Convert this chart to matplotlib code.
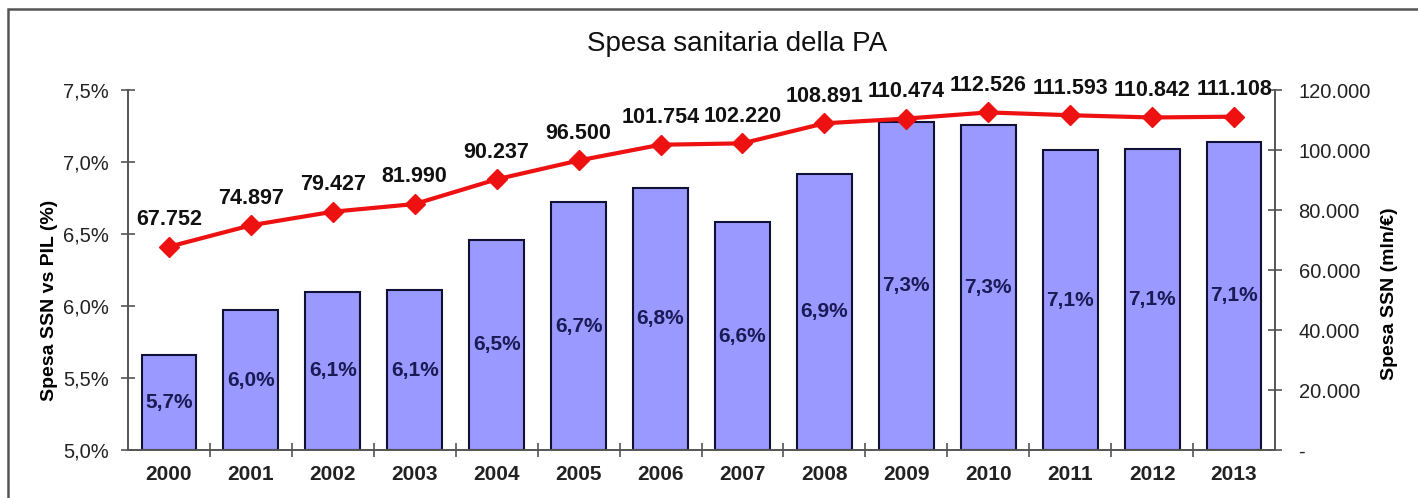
import matplotlib
matplotlib.use("Agg")
import matplotlib.pyplot as plt
from matplotlib.patches import Rectangle
from matplotlib.ticker import FixedLocator

years = ["2000", "2001", "2002", "2003", "2004", "2005", "2006",
         "2007", "2008", "2009", "2010", "2011", "2012", "2013"]
pct_pil = [5.66, 5.97, 6.10, 6.11, 6.46, 6.72, 6.82,
           6.58, 6.92, 7.28, 7.26, 7.08, 7.09, 7.14]
pct_labels = ["5,7%", "6,0%", "6,1%", "6,1%", "6,5%", "6,7%", "6,8%",
              "6,6%", "6,9%", "7,3%", "7,3%", "7,1%", "7,1%", "7,1%"]
spesa = [67752, 74897, 79427, 81990, 90237, 96500, 101754,
         102220, 108891, 110474, 112526, 111593, 110842, 111108]
spesa_labels = ["67.752", "74.897", "79.427", "81.990", "90.237", "96.500",
                "101.754", "102.220", "108.891", "110.474", "112.526",
                "111.593", "110.842", "111.108"]
left_ticks = [5.0, 5.5, 6.0, 6.5, 7.0, 7.5]
left_tick_labels = ["5,0%", "5,5%", "6,0%", "6,5%", "7,0%", "7,5%"]
right_ticks = [0, 20000, 40000, 60000, 80000, 100000, 120000]
right_tick_labels = ["-", "20.000", "40.000", "60.000", "80.000", "100.000", "120.000"]

plt.rcParams['font.family'] = ['Liberation Sans', 'DejaVu Sans']

W, H = 1418, 498
fig = plt.figure(figsize=(W / 100, H / 100), dpi=100)
ax = fig.add_axes([128 / W, 1 - 450 / H, (1275 - 128) / W, (450 - 90) / H])

x = list(range(len(years)))
base = 5.0
ax.bar(x, [v - base for v in pct_pil], bottom=base, width=0.67,
       color="#9999FF", edgecolor="#111133", linewidth=1.5, zorder=2)
for xi, v, lab in zip(x, pct_pil, pct_labels):
    ax.text(xi, (v + base) / 2, lab, ha="center", va="center",
            fontsize=15, fontweight="bold", color="#1a1a55", zorder=3)

ax.set_xlim(-0.5, len(years) - 0.5)
ax.set_ylim(5.0, 7.5)
ax.yaxis.set_major_locator(FixedLocator(left_ticks))
ax.set_yticklabels(left_tick_labels, fontsize=14.5, color="#222222")
ax.set_xticks(x)
ax.set_xticklabels(years, fontsize=15, fontweight="bold", color="#222222")
ax.set_xticks([i + 0.5 for i in x[:-1]], minor=True)
ax.tick_params(axis="x", which="major", length=0, pad=11)
ax.tick_params(axis="x", which="minor", direction="inout", length=10, width=1.2, color="#555555")
ax.tick_params(axis="y", direction="inout", length=10, width=1.2, color="#555555", pad=9)
ax.spines["top"].set_visible(False)
for s in ["left", "bottom", "right"]:
    ax.spines[s].set_color("#555555")
    ax.spines[s].set_linewidth(1.2)
ax.set_ylabel("Spesa SSN vs PIL (%)", fontsize=14, fontweight="bold")
ax.yaxis.set_label_coords(-0.061, 0.417)

ax2 = ax.twinx()
ax2.set_ylim(0, 120000)
ax2.plot(x, spesa, color="#EE1111", linewidth=3, marker="D", markersize=10,
         markerfacecolor="#EE1111", markeredgecolor="#EE1111", zorder=4, clip_on=False)
for xi, v, lab in zip(x, spesa, spesa_labels):
    ax2.annotate(lab, (xi, v), xytext=(0, 12), textcoords="offset points",
                 ha="center", va="bottom", fontsize=15.5, fontweight="bold",
                 color="#111111", annotation_clip=False)
ax2.yaxis.set_major_locator(FixedLocator(right_ticks))
ax2.set_yticklabels(right_tick_labels, fontsize=14.5, color="#222222")
ax2.tick_params(axis="y", direction="inout", length=10, width=1.2, color="#555555", pad=12)
ax2.spines["top"].set_visible(False)
for s in ["left", "bottom", "right"]:
    ax2.spines[s].set_color("#555555")
    ax2.spines[s].set_linewidth(1.2)
ax2.set_ylabel("Spesa SSN (mln/€)", fontsize=14, fontweight="bold")
ax2.yaxis.set_label_coords(1.092, 0.433)

fig.text(737 / W, 1 - 44 / H, "Spesa sanitaria della PA", ha="center", va="center",
         fontsize=20, color="#111111")

fig.patches.append(Rectangle((8 / W, -0.05), 1.0, 1 - 9 / H + 0.05,
                             transform=fig.transFigure, fill=False,
                             edgecolor="#555555", linewidth=1.8))

fig.savefig("out.png", dpi=100)
